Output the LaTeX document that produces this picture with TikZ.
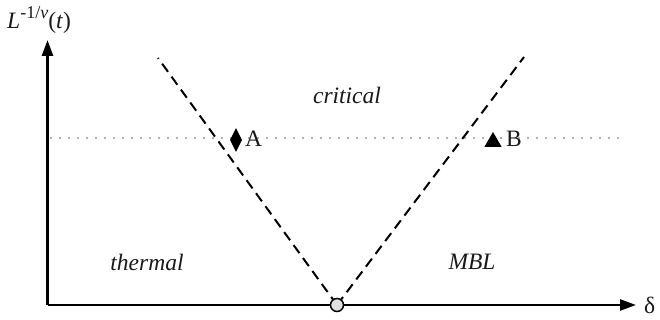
\documentclass[tikz,border=0pt]{standalone}
\usepackage{fontspec}
\setmainfont{Liberation Serif}
\usetikzlibrary{arrows.meta,shapes.geometric}

\begin{document}
\begin{tikzpicture}[x=1pt,y=-1pt,
  every node/.style={text=black!90, font=\fontsize{23.5}{28}\selectfont},
  axis/.style={line width=2.6pt, -{Triangle[length=16pt,width=11pt]}},
  boundary/.style={line width=2pt, dash pattern=on 10pt off 6pt},
  level/.style={line width=2.4pt, black!30, dash pattern=on 2.4pt off 6.6pt},
  phase/.style={font=\fontsize{23.5}{28}\selectfont\itshape},
  marker/.style={fill=black, draw=none, inner sep=0pt}]
  \useasboundingbox (0,0) rectangle (660,320);

  % axes
  \coordinate (O) at (47.5,305);
  \coordinate (ytop) at (47.5,40);
  \coordinate (xend) at (636,305);
  \draw[level] (50,138) coordinate (lvl0) -- (625,138) coordinate (lvl1);
  \draw[axis] (O) -- (ytop);
  \draw[axis] (O) -- (xend);
  \node[anchor=west, inner sep=0pt] (dlt) at (644,305) {δ};
  \node[anchor=west, inner sep=0pt] (ylab) at (7,20)
    {\textit{L}\raisebox{0.42em}{\fontsize{18}{21}\selectfont -1/\textit{v}}(\textit{t})};

  % phase boundaries
  \coordinate (crit) at (337,305);
  \coordinate (ltop) at (158,58);
  \coordinate (rtop) at (524,57);
  \draw[boundary] (crit) -- (ltop);
  \draw[boundary] (crit) -- (rtop);
  \node[circle, draw=black, line width=1.5pt, fill=black!12,
        minimum size=13pt, inner sep=0pt] (cp) at (crit) {};

  % phase labels
  \node[phase] (lcrit) at (347,95) {critical};
  \node[phase] (lth) at (147,262) {thermal};
  \node[phase] (lmbl) at (472,262) {MBL};

  % points A and B
  \node[marker, diamond, minimum width=12pt, minimum height=24pt] (mA) at (236,140) {};
  \node[anchor=west, inner sep=0pt] (tA) at (245,139) {A};
  \node[marker, regular polygon, regular polygon sides=3, minimum size=20pt] (mB) at (493,142) {};
  \node[anchor=west, inner sep=0pt] (tB) at (506,139) {B};
\end{tikzpicture}
\end{document}
